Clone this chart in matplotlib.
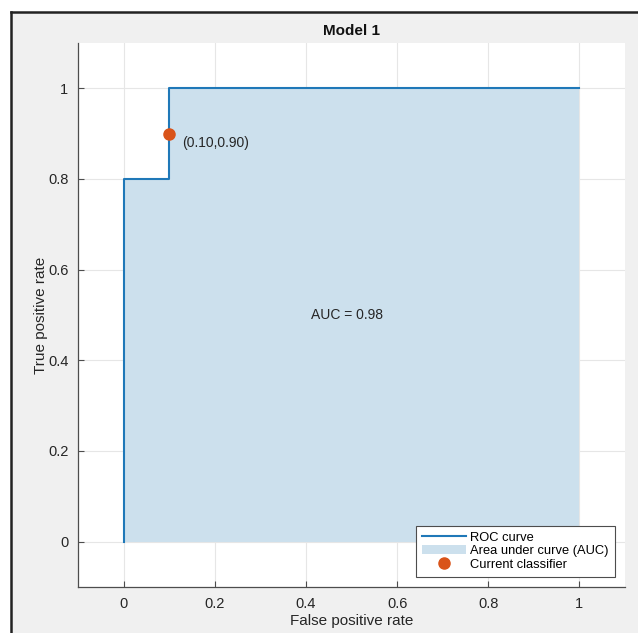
import matplotlib.pyplot as plt
from matplotlib.lines import Line2D
from matplotlib.patches import Rectangle

# ROC data (step curve)
fpr = [0.0, 0.0, 0.1, 0.1, 1.0]
tpr = [0.0, 0.8, 0.8, 1.0, 1.0]
current_point = (0.10, 0.90)
auc_value = 0.98
x_ticks = [0, 0.2, 0.4, 0.6, 0.8, 1]
y_ticks = [0, 0.2, 0.4, 0.6, 0.8, 1]
tick_labels = ["0", "0.2", "0.4", "0.6", "0.8", "1"]

plt.rcParams['font.family'] = ['Liberation Sans', 'DejaVu Sans']

fig = plt.figure(figsize=(6.38, 6.33), dpi=100)
fig.patch.set_facecolor('white')

# gray panel with dark border at left/top (screenshot look)
W, H = 638, 633
fig.add_artist(Rectangle((11 / W, 0), 1.0, 1 - 12 / H, transform=fig.transFigure,
                         facecolor='#f0f0f0', edgecolor='none', zorder=-10))
fig.add_artist(Line2D([11 / W, 11 / W], [0, 1 - 12 / H], transform=fig.transFigure,
                      color='#222222', lw=1.8))
fig.add_artist(Line2D([11 / W, 1], [1 - 12 / H, 1 - 12 / H], transform=fig.transFigure,
                      color='#222222', lw=1.8))

ax = fig.add_axes([78 / W, 1 - 587 / H, (625 - 78) / W, (587 - 43) / H])
ax.set_facecolor('white')

blue = '#1f78b8'
orange = '#D95319'

ax.fill_between(fpr, tpr, 0, color='#cce0ed', zorder=2, lw=0,
                label='Area under curve (AUC)')
ax.plot(fpr, tpr, color=blue, lw=1.5, zorder=3, label='ROC curve')
ax.plot([current_point[0]], [current_point[1]], 'o', color=orange, ms=8,
        zorder=4, label='Current classifier')

ax.annotate("(%.2f,%.2f)" % current_point, xy=current_point, xytext=(9, -6.5),
            textcoords='offset points', fontsize=10, color='#262626',
            va='center', ha='left', zorder=5)
ax.text(0.49, 0.5, "AUC = %.2f" % auc_value, fontsize=10, color='#262626',
        ha='center', va='center', zorder=5)

ax.set_xlim(-0.1, 1.1)
ax.set_ylim(-0.1, 1.1)
ax.set_xticks(x_ticks)
ax.set_yticks(y_ticks)
ax.set_xticklabels(tick_labels)
ax.set_yticklabels(tick_labels)
ax.grid(True, color='#e6e6e6', lw=0.8, zorder=0)
ax.set_axisbelow(True)
ax.tick_params(direction='in', length=4, width=0.8, colors='#4d4d4d',
               labelcolor='#262626', labelsize=10.5, pad=7)
for s in ['top', 'right']:
    ax.spines[s].set_visible(False)
for s in ['left', 'bottom']:
    ax.spines[s].set_color('#4d4d4d')
    ax.spines[s].set_linewidth(0.9)

ax.set_xlabel('False positive rate', fontsize=11, color='#262626', labelpad=2)
ax.set_ylabel('True positive rate', fontsize=11, color='#262626', labelpad=0)
ax.set_title('Model 1', fontsize=11, fontweight='bold', color='#111111', pad=6)

handles, labels = ax.get_legend_handles_labels()
order = [labels.index('ROC curve'), labels.index('Area under curve (AUC)'),
         labels.index('Current classifier')]
leg = ax.legend([handles[i] for i in order], [labels[i] for i in order],
                loc='lower right', fontsize=9.3, frameon=True, fancybox=False,
                edgecolor='#4d4d4d', framealpha=1, borderaxespad=0.8,
                handlelength=3.4, labelspacing=0.12, borderpad=0.45,
                handletextpad=0.35)
leg.get_frame().set_linewidth(0.8)

fig.savefig('out.png', dpi=100)
